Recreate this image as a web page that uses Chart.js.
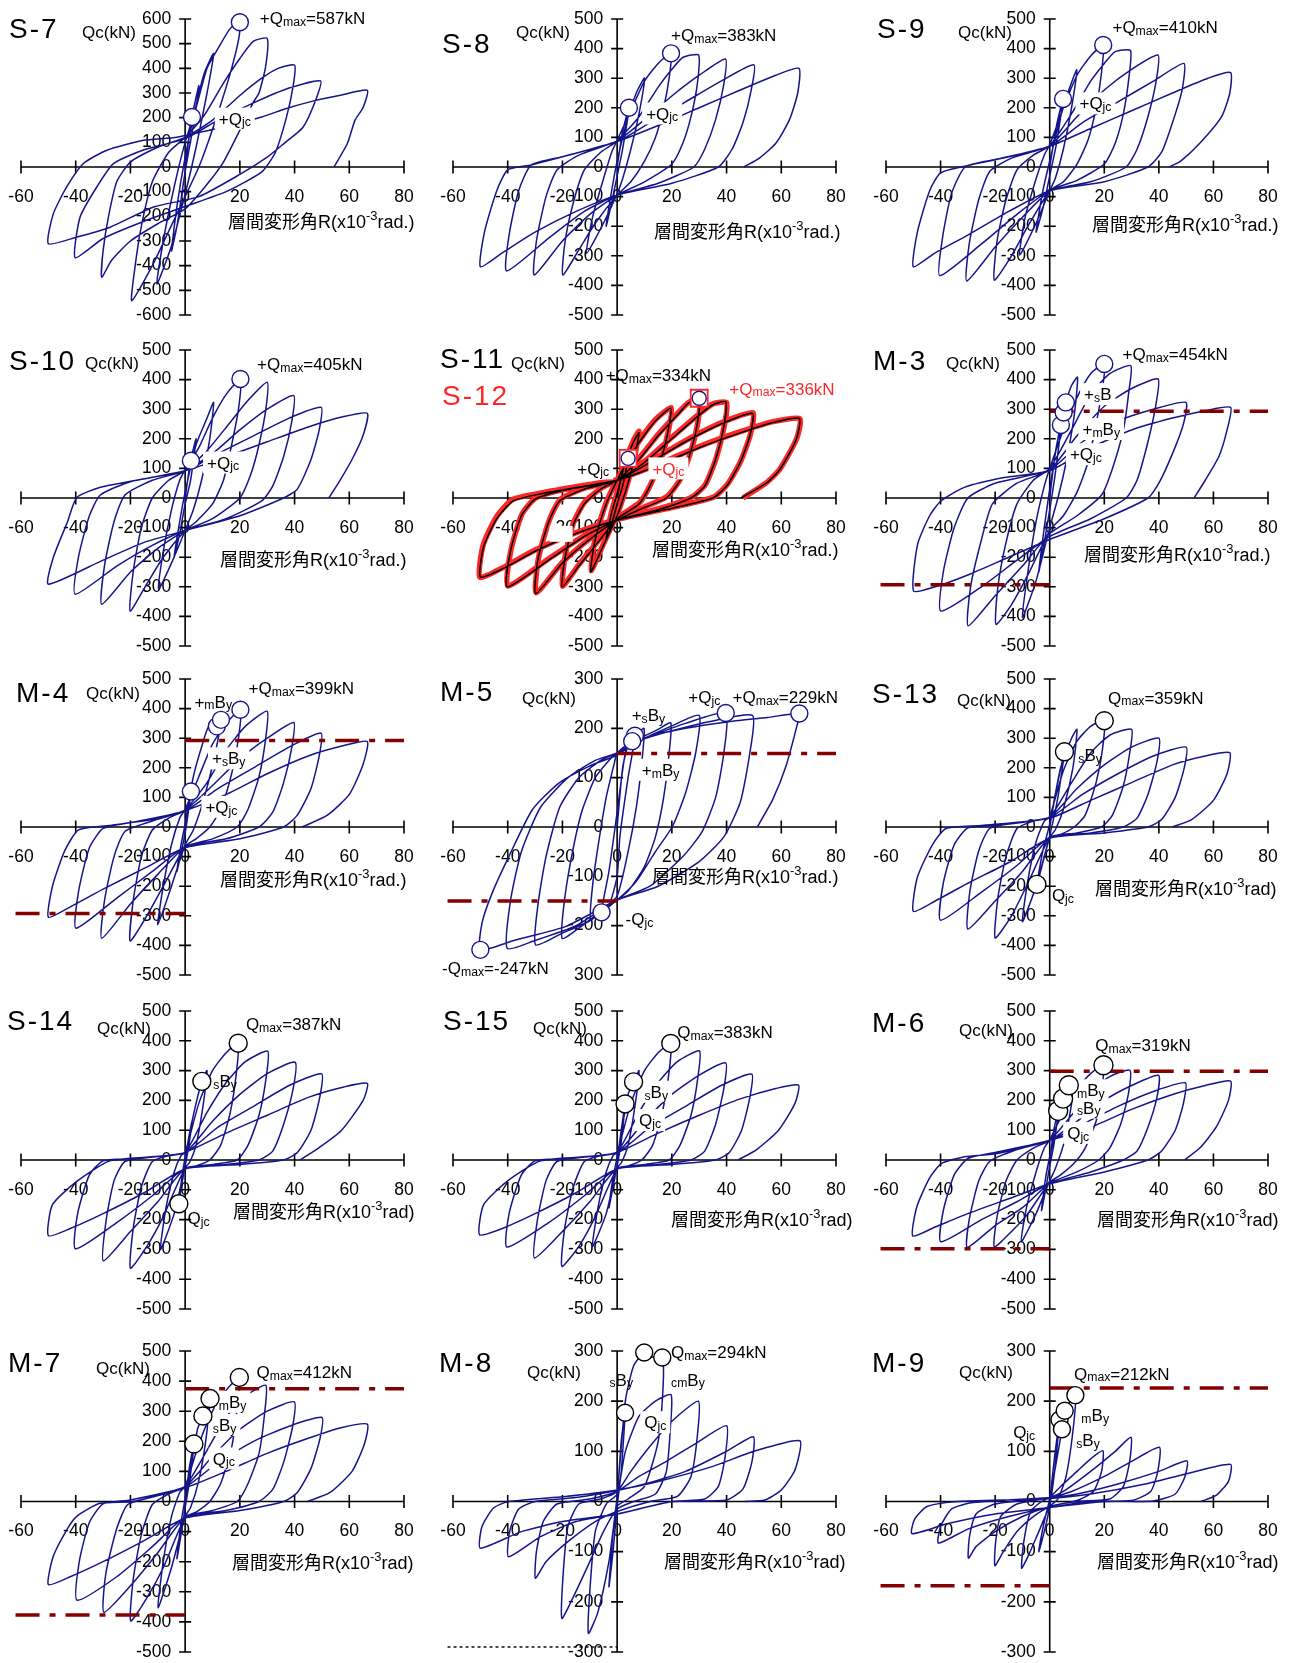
<!DOCTYPE html>
<html>
<head>
<meta charset="utf-8">
<script src="https://cdn.jsdelivr.net/npm/chart.js@4.4.1/dist/chart.umd.min.js"></script>
<style>
  body { margin: 0; background: #fff; }
  #wrap { position: relative; width: 1296px; height: 1663px; }
</style>
</head>
<body>
<div id="wrap"></div>
<script>
// 目盛り
const xTicks = [-60, -40, -20, 0, 20, 40, 60, 80];
const yTicks600 = [-600, -500, -400, -300, -200, -100, 0, 100, 200, 300, 400, 500, 600];
const yTicks500 = [-500, -400, -300, -200, -100, 0, 100, 200, 300, 400, 500];
const yTicks300 = [-300, -200, -100, 0, 100, 200, 300];
const yLabels600 = ['-600', '-500', '-400', '-300', '-200', '-100', '0', '100', '200', '300', '400', '500', '600'];
const yLabels500 = ['-500', '-400', '-300', '-200', '-100', '0', '100', '200', '300', '400', '500'];
const yLabels300 = ['-300', '-200', '-100', '0', '100', '200', '300'];
const yLabelsM5 = ['300', '-200', '-100', '0', '100', '200', '300'];

// 履歴ループ (R x10^-3 rad, Qc kN) を x,y の順に並べたもの
const s7Loop = [
  0,0, 2.5,203, 5,330, 3,170, 0,-20, -3,-240, -5,-340, -3,-160, 0,40,
  4,250, 7,380, 10.4,460, 8,300, 4,80, 0,-110, -5,-320, -10.3,-474, -8,-300, -4,-80, 0,100,
  4,240, 8,400, 12,480, 16.5,562, 20,587, 19.6,520, 17,400, 13.5,271, 9,120, 5,0, 0,-120, -6,-260, -12,-400, -19.5,-542, -18.5,-420, -16,-240, -12,-60, -6,60, 0,120,
  7,210, 14,340, 20,440, 25,510, 30,521, 29.4,406, 27,300, 25,264, 20,149, 14,20, 8,-70, 0,-170, -10,-230, -20,-300, -27,-380, -30.5,-447, -30,-340, -28,-200, -25,-60, -20,20, -10,80, 0,120,
  10,190, 20,290, 28,360, 34,400, 40,413, 39.5,330, 37,200, 33,60, 28,-20, 15,-100, 0,-160, -15,-220, -30,-290, -40.2,-368, -38.4,-203, -32.3,-81, -26.2,14, -15,70, 0,115,
  12,190, 25,260, 38,320, 49.5,349, 47.7,271, 43,160, 36.1,95, 30,40, 20,-30, 5,-120, -11.5,-162, -27.4,-244, -39.6,-284, -50,-311, -48.2,-190, -43.3,-81, -37.2,14, -28.6,68, -15.2,108, -3,121,
  15,165, 28,203, 37,237, 47,268, 56.8,291, 66.6,311, 65,240, 62.1,190, 59.3,95, 54.4,0
];
const s8Loop = [
  0,0, 2,120, 4.3,200, 2,60, 0,-30, -2,-120, -4,-200, -2,-80, 0,20,
  4,170, 7,250, 10,300, 8,180, 5,60, 2,-40, 0,-90, -5,-190, -11.2,-292, -9,-170, -5,-40, -2,50, 0,90,
  5,190, 10,290, 15,350, 19.7,384, 19,300, 17,200, 14,100, 10,20, 5,-50, 0,-95, -8,-190, -14,-280, -19.9,-365, -19,-250, -16,-120, -12,-10, -6,50, 0,88,
  8,170, 15,270, 20,330, 24,370, 29.8,378, 29.3,280, 27,170, 24,80, 20,10, 10,-50, 0,-95, -10,-160, -20,-250, -30.3,-365, -29.5,-250, -26,-100, -22,-10, -14,40, 0,88,
  10,160, 20,240, 30,310, 39.6,365, 39,280, 36,160, 32,60, 28,0, 15,-55, 0,-95, -12,-150, -25,-240, -40.4,-351, -39.5,-230, -36,-80, -31.4,7, -20,35, 0,86,
  12,150, 25,220, 38,290, 50,345, 49,260, 46,150, 42,60, 37,0, 20,-55, 0,-95, -15,-150, -30,-220, -42,-290, -50,-337, -48.5,-220, -44,-80, -40,-10, -31.4,7, -17.2,41, 0,86,
  15,140, 30,200, 45,260, 58,310, 66.5,333, 66,250, 63,160, 58,80, 52,30, 46.3,0
];
const s9Loop = [
  0,0, 2.5,140, 4.9,230, 2.5,80, 0,-30, -2.5,-140, -5,-220, -2.5,-80, 0,20,
  4,170, 7,260, 9.9,328, 8,200, 5,60, 2,-40, 0,-80, -5,-190, -11,-297, -9,-170, -5,-40, -2,40, 0,75,
  5,200, 10,310, 15,375, 19.6,412, 19,320, 17,200, 14,90, 10,10, 5,-50, 0,-80, -8,-200, -14,-300, -20.3,-382, -19.3,-250, -16,-110, -12,-10, -6,40, 0,72,
  8,180, 15,290, 20,350, 24,390, 29.6,393, 29,300, 27,180, 24,80, 20,10, 10,-45, 0,-80, -10,-170, -20,-270, -30.4,-385, -29.5,-260, -26,-110, -22,-15, -14,30, 0,72,
  10,170, 20,260, 30,330, 39.7,378, 39,290, 36,170, 32,60, 28,0, 15,-50, 0,-80, -12,-160, -25,-260, -40.3,-367, -39.3,-240, -36,-90, -31,0, -20,25, 0,70,
  12,150, 25,220, 38,290, 49.2,350, 48.5,260, 45,150, 41,50, 36,0, 20,-50, 0,-80, -15,-150, -30,-230, -42,-290, -50,-337, -48.5,-220, -44,-80, -40,-20, -30,5, -17,30, 0,70,
  15,130, 30,190, 45,250, 58,300, 66.3,319, 66,250, 63,170, 55,80, 48,20, 43.7,0
];
const s10Loop = [
  0,0, 2,126, 4,200, 2,60, 0,-20, -2,-120, -4,-200, -2,-80, 0,20,
  4,180, 8,270, 10.4,323, 9,200, 6,60, 3,-40, 0,-110, -5,-220, -9.7,-308, -8,-180, -5,-40, -2,60, 0,95,
  5,170, 10,270, 15,350, 20.2,402, 19.5,300, 17,180, 14,60, 10,-20, 4,-80, 0,-110, -8,-200, -14,-290, -20.1,-382, -19,-250, -16,-100, -12,0, -6,60, 0,92,
  8,160, 16,250, 23,330, 30,391, 29.5,300, 27,180, 24,80, 20,0, 10,-70, 0,-110, -10,-170, -20,-250, -30.5,-359, -29.5,-230, -26,-80, -22,10, -12,60, 0,92,
  10,150, 20,230, 30,300, 39.7,346, 39,260, 36,140, 32,40, 28,-10, 15,-70, 0,-110, -12,-160, -25,-230, -40.2,-325, -39,-200, -35,-60, -31,10, -20,55, 0,92,
  12,150, 25,210, 38,270, 49.7,306, 49,230, 46,130, 41,30, 36,0, 20,-60, 0,-110, -15,-150, -30,-210, -50,-291, -48.2,-201, -43,-80, -39.6,2, -31,36, -18.9,58, 0,92,
  15,140, 30,190, 45,240, 58,275, 66.6,286, 65,210, 61,130, 56,50, 52.5,0
];
const s11Loop = [
  0,0, 2,90, 4,134, 2,40, 0,-20, -2,-90, -4,-140, -2,-50, 0,15,
  3,120, 6,190, 8,220, 6,120, 3,20, 0,-60, -5,-160, -9.7,-250, -8,-140, -4,-20, 0,60,
  4,130, 9,200, 14,260, 19.6,303, 18.5,220, 16,130, 12,40, 8,-20, 0,-70, -7,-150, -14,-230, -20.1,-300, -19,-200, -16,-90, -12,-20, -6,30, 0,60,
  8,130, 15,210, 22,280, 26,320, 30,337, 29.3,250, 27,160, 23,60, 18,0, 8,-40, 0,-75, -10,-140, -20,-220, -29.8,-323, -29,-210, -25,-80, -21,-10, -12,30, 0,60,
  10,120, 20,200, 30,280, 35,315, 39.7,325, 39,240, 36,130, 32,40, 27,0, 15,-40, 0,-75, -12,-130, -25,-210, -40.2,-300, -39,-180, -35,-60, -30,-5, -20,25, 0,60,
  12,120, 25,190, 38,250, 49.5,286, 48.5,210, 45,120, 40,40, 35,0, 20,-35, 0,-75, -15,-120, -30,-180, -42,-240, -50,-267, -48.8,-165, -44,-70, -38,-10, -27.4,15, -12,40, 0,60,
  15,110, 30,170, 45,220, 57,255, 66.6,269, 65.4,196, 59.3,94, 54.4,49, 45.2,0
];
const s12Loop = [
  0,0, 2,95, 4,138, 2,45, 0,-15, -2,-85, -4,-135, -2,-45, 0,18,
  3,125, 6,195, 8,225, 6,125, 3,25, 0,-55, -5,-155, -9.5,-245, -8,-135, -4,-15, 0,62,
  4,135, 9,205, 14,265, 19.8,305, 18.7,225, 16.2,135, 12.2,45, 8.2,-15, 0,-68, -7,-145, -14,-225, -20,-298, -19,-195, -16,-85, -12,-15, -6,32, 0,62,
  8,135, 15,215, 22,285, 26,322, 30.2,338, 29.5,255, 27.2,165, 23.2,65, 18.2,5, 8,-38, 0,-72, -10,-137, -20,-217, -29.6,-320, -28.8,-205, -24.8,-75, -20.8,-5, -12,33, 0,62,
  10,124, 20,205, 30,284, 35,318, 40,322, 39.2,245, 36.2,135, 32.2,45, 27.2,3, 15,-37, 0,-72, -12,-127, -25,-205, -40,-297, -38.8,-175, -34.8,-55, -29.8,0, -20,28, 0,62,
  12,124, 25,194, 38,254, 49.7,288, 48.7,215, 45.2,125, 40.2,45, 35.2,3, 20,-32, 0,-72, -15,-117, -30,-176, -42,-236, -50.2,-268, -49,-160, -44.2,-65, -38.2,-5, -27.2,18, -12,43, 0,62,
  15,114, 30,174, 45,224, 57,258, 66.8,268, 65.6,200, 59.5,98, 54.6,52, 46,0
];
const m3Loop = [
  0,0, 2,150, 4.1,247, 2,80, 0,-40, -2,-150, -4,-250, -2,-100, 0,30,
  3,200, 5.1,289, 5.9,323, 8,380, 10.2,408, 9,280, 6,120, 3,0, 0,-100, -5,-280, -10,-404, -8,-250, -5,-80, -2,40, 0,100,
  5,230, 10,340, 15,420, 20,453, 19.5,380, 17,250, 14,120, 10,20, 5,-60, 0,-110, -8,-260, -14,-360, -19.7,-427, -19,-300, -16,-150, -12,-20, -6,60, 0,100,
  8,230, 15,350, 22,420, 29.7,447, 29,360, 27,230, 23,100, 19,10, 10,-60, 0,-120, -10,-230, -20,-330, -29.9,-432, -29,-300, -25,-140, -21,-20, -12,50, 0,95,
  10,210, 20,310, 30,370, 39.7,402, 39,320, 36,190, 32,60, 28,0, 15,-70, 0,-130, -12,-210, -25,-300, -39.9,-382, -39,-250, -35,-100, -30,0, -20,50, 0,95,
  12,190, 25,260, 38,300, 49.9,323, 49,250, 45,150, 40,50, 36,0, 20,-70, 0,-140, -15,-200, -30,-260, -42,-300, -49.9,-314, -48.4,-156, -44,-60, -39.9,-10, -31.3,36, -16.7,69, 0,92,
  15,170, 30,230, 45,270, 57,295, 66.3,306, 65,230, 62,140, 57,60, 52.9,0
];
const m4Loop = [
  0,0, 1,70, 2.1,120, 1,40, 0,-20, -1.5,-90, -3,-150, -1.5,-60, 0,10,
  3,170, 6,270, 8.6,340, 11.6,340, 13.1,362, 11,250, 7,100, 3,-10, 0,-60, -5,-200, -10,-330, -8,-200, -5,-60, -2,30, 0,60,
  5,170, 10,280, 15,350, 20.2,396, 19.5,300, 17,180, 13,60, 9,0, 4,-40, 0,-65, -8,-200, -14,-300, -20.1,-385, -19,-250, -16,-100, -12,-10, -6,30, 0,58,
  8,150, 15,260, 22,340, 30,391, 29.3,290, 27,170, 23,60, 19,0, 10,-40, 0,-67, -10,-160, -20,-260, -30.5,-376, -29.5,-250, -26,-100, -22,-15, -12,20, 0,58,
  10,140, 20,230, 30,300, 39.7,353, 39,270, 36,150, 32,50, 27,0, 15,-40, 0,-67, -12,-150, -25,-240, -39.9,-342, -39,-220, -35,-70, -30,-5, -20,15, 0,55,
  12,130, 25,200, 38,270, 49.7,317, 49,240, 46,130, 41,40, 36,0, 20,-40, 0,-70, -15,-140, -30,-210, -42,-270, -50,-305, -48.5,-200, -44,-80, -39,-10, -28,5, -12,25, 0,55,
  15,110, 30,180, 45,240, 58,275, 66.6,289, 65,210, 60,110, 52,40, 42.8,0
];
const m5Loop = [
  0,0, 2,120, 4,165, 6.5,185, 4,100, 1,-20, 0,-100, -3,-160, -5.7,-173, -3,-90, 0,30,
  3,150, 5.5,174, 9.8,200, 9,130, 7,40, 4,-50, 0,-140, -5,-165, -9.7,-188, -9,-120, -7,-40, -4,60, -1,130, 0,150,
  5.5,175, 10,185, 15,198, 19.6,211, 19,150, 17,60, 14,-20, 10,-80, 4,-130, 0,-148, -8,-180, -14,-205, -20.1,-226, -19.5,-160, -17,-70, -13,30, -8,100, -3,135, 0,150,
  6,170, 12,185, 20,205, 30,226, 28.7,150, 25,69, 20.2,1, 14,-50, 7,-110, 0,-148, -10,-190, -20,-215, -29.8,-239, -29,-160, -26,-60, -21,40, -14,100, -6,135, 0,150,
  6,170, 15,190, 25,210, 39.7,231, 39,150, 36,60, 31,-10, 24,-60, 12,-120, 0,-148, -15,-200, -30,-230, -40.2,-246, -39,-150, -35,-50, -28,40, -18,100, -8,135, 0,150,
  8,175, 20,195, 35,215, 49.5,226, 48.5,150, 45,50, 39,-20, 30,-70, 15,-120, 0,-148, -18.9,-202, -37.2,-229, -50,-249, -49.4,-195, -45.7,-134, -39.6,-60, -31,35, -21.3,89, -10.3,123, 0,146,
  10,180, 25,200, 40,213, 55,222, 66.6,230, 66,211, 61.7,123, 56.8,55, 51.3,1
];
const s13Loop = [
  0,0, 2.5,130, 5.4,254, 3,100, 0,-30, -2.5,-120, -4.7,-194, -2.5,-80, 0,10,
  4,200, 8,300, 10,330, 8.5,200, 5,60, 2,-10, 0,-35, -5,-200, -10,-320, -8,-180, -5,-50, -2,20, 0,35,
  5,190, 10,290, 15,340, 20,359, 19.3,260, 17,150, 13,40, 9,0, 4,-25, 0,-35, -8,-190, -14,-300, -20,-375, -19,-240, -16,-100, -12,-5, -6,20, 0,33,
  8,150, 15,250, 22,310, 30,330, 29.3,250, 27,140, 23,40, 19,0, 10,-20, 0,-35, -10,-150, -20,-250, -30,-345, -29.3,-220, -26,-80, -22,-5, -12,15, 0,33,
  10,130, 20,210, 30,270, 40,300, 39.3,220, 36,110, 32,30, 27,0, 15,-20, 0,-35, -12,-130, -25,-220, -40,-315, -39,-190, -35,-60, -30,-3, -20,5, 0,32,
  12,110, 25,180, 38,240, 50,270, 49.3,200, 46,100, 41,25, 36,0, 20,-20, 0,-38, -15,-120, -30,-190, -42,-250, -50,-285, -48.5,-170, -43,-60, -38,-5, -25,5, 0,30,
  15,90, 30,150, 45,210, 57,240, 66,251, 65,180, 60,90, 52,25, 45,0
];
const s14Loop = [
  0,0, 1.2,70, 2.5,130, 1.2,40, 0,-20, -1.2,-80, -2.3,-147, -1.2,-60, 0,10,
  3,150, 6.1,264, 8,300, 6.5,180, 4,50, 1.5,-10, 0,-25, -4,-180, -9,-300, -7,-160, -4,-40, -1.5,15, 0,25,
  5,190, 10,300, 15,360, 19.4,392, 18.7,290, 16.5,160, 13,50, 9,0, 4,-20, 0,-28, -8,-190, -14,-290, -20,-363, -19,-230, -16,-90, -12,-5, -6,15, 0,25,
  8,160, 15,260, 22,330, 30.2,365, 29.5,270, 27,150, 23,50, 19,0, 10,-15, 0,-28, -10,-140, -20,-240, -29.9,-338, -29,-210, -26,-70, -22,-5, -12,10, 0,25,
  10,130, 20,220, 30,290, 40.2,328, 39.5,240, 36,120, 32,30, 27,0, 15,-15, 0,-28, -12,-120, -25,-210, -40.1,-298, -39.3,-180, -35,-50, -30,-3, -20,5, 0,25,
  12,110, 25,180, 38,250, 49.9,289, 49.2,210, 46,100, 41,25, 36,0, 20,-15, 0,-30, -15,-110, -30,-180, -42,-230, -50,-254, -48.5,-150, -39.5,-71, -27.5,-3, -7.4,13, 0,25,
  15,90, 30,150, 45,210, 58,245, 66.6,257, 65,199, 57,98, 48.9,41, 41.9,0
];
const s15Loop = [
  0,0, 1.5,100, 2.9,188, 1.5,60, 0,-20, -1.5,-90, -3,-160, -1.5,-60, 0,10,
  4,220, 6,262, 8,300, 6.5,180, 4,50, 1.5,-10, 0,-25, -4,-180, -9,-290, -7,-160, -4,-40, -1.5,15, 0,25,
  5,190, 10,300, 15,360, 19.6,391, 18.9,290, 16.5,160, 13,50, 9,0, 4,-20, 0,-28, -8,-190, -14,-290, -20.2,-357, -19.2,-230, -16,-90, -12,-5, -6,15, 0,25,
  8,160, 15,260, 22,330, 30.1,366, 29.4,270, 27,150, 23,50, 19,0, 10,-15, 0,-28, -10,-140, -20,-240, -30.2,-329, -29.3,-210, -26,-70, -22,-5, -12,10, 0,25,
  10,130, 20,220, 30,285, 39.7,326, 39,240, 36,120, 32,30, 27,0, 15,-15, 0,-28, -12,-120, -25,-210, -40.3,-292, -39.5,-180, -35,-50, -30,-3, -20,5, 0,25,
  12,110, 25,180, 38,250, 49.2,288, 48.5,210, 45.5,100, 41,25, 36,0, 20,-15, 0,-30, -15,-110, -30,-180, -42,-230, -50.3,-251, -48.8,-150, -40,-70, -28,-3, -8,13, 0,25,
  15,90, 30,150, 45,205, 58,240, 66.3,251, 65,190, 59,100, 51,35, 44.2,0
];
const m6Loop = [
  0,0, 1.5,100, 3.1,165, 1.5,50, 0,-20, -1.5,-100, -3,-170, -1.5,-60, 0,10,
  4.9,206, 7,251, 9,270, 7.5,160, 5,50, 2,-30, 0,-70, -5,-180, -10.4,-274, -8.5,-160, -5,-40, -2,40, 0,68,
  5,160, 10,240, 15,290, 19.7,318, 19,230, 17,130, 13,40, 9,-10, 4,-50, 0,-75, -8,-180, -14,-240, -20.3,-291, -19.3,-190, -16,-70, -12,0, -6,40, 0,66,
  8,150, 15,230, 22,280, 29.4,301, 28.8,220, 26,120, 22,40, 18,0, 10,-40, 0,-78, -10,-160, -20,-220, -30.2,-293, -29.5,-200, -26,-70, -22,-5, -12,35, 0,66,
  10,130, 20,200, 30,250, 39.9,284, 39.3,210, 36,110, 32,30, 27,0, 15,-40, 0,-79, -12,-140, -25,-200, -39.9,-274, -39,-170, -35,-50, -30,5, -20,25, 0,66,
  12,120, 25,180, 38,230, 49.7,259, 49,190, 46,100, 41,30, 36,0, 20,-40, 0,-80, -15,-130, -30,-180, -42,-225, -50.2,-255, -48.7,-157, -44,-60, -39.7,-12, -31.2,11, -19.1,22, 0,66,
  15,110, 30,170, 45,220, 57,250, 66.3,265, 65.5,200, 61,110, 55,40, 49.4,0
];
const m7Loop = [
  0,0, 1.5,110, 3.2,191, 1.5,60, 0,-20, -1.5,-110, -3,-190, -1.5,-70, 0,10,
  4.5,240, 6.5,284, 9.1,342, 7.5,200, 5,70, 2,-20, 0,-50, -5,-220, -9.9,-353, -8,-200, -5,-50, -2,30, 0,50,
  5,190, 10,300, 15,370, 19.8,412, 19,310, 17,180, 13,60, 9,0, 4,-35, 0,-52, -8,-220, -14,-320, -19.9,-397, -19,-260, -16,-110, -12,-10, -6,25, 0,50,
  8,170, 15,280, 22,350, 29.5,386, 29,290, 27,160, 23,60, 19,0, 10,-30, 0,-52, -10,-170, -20,-280, -29.7,-368, -29,-240, -25,-90, -21,-10, -12,15, 0,50,
  10,150, 20,240, 30,300, 39.9,331, 39.3,250, 36,130, 32,40, 27,0, 15,-30, 0,-52, -12,-150, -25,-250, -39.5,-328, -38.7,-200, -35,-70, -30,-8, -20,5, 0,48,
  12,130, 25,200, 38,250, 50,279, 49.3,210, 46,110, 41,30, 36,0, 20,-30, 0,-55, -15,-130, -30,-200, -42,-250, -50,-276, -48.2,-182, -43,-90, -39.7,-50, -31.2,-6, -19,0, 0,45,
  15,100, 30,160, 45,210, 57,245, 66.6,257, 65.5,190, 61,100, 53,30, 44.7,0
];
const m8Loop = [
  0,0, 1.5,120, 2.9,177, 1.5,60, 0,-10, -1.5,-100, -3,-170, -1.5,-60, 0,10,
  3,200, 6,270, 9.9,297, 12,288, 16.5,287, 16.8,230, 15,120, 10,30, 4,5, 0,-10, -3,-120, -7,-220, -10.5,-263, -10,-180, -8,-60, -4,-5, 0,15,
  3,100, 8,170, 14,200, 19.7,213, 19.5,150, 18,60, 14,15, 6,0, 0,-15, -5,-60, -10,-120, -16,-190, -20.2,-233, -19.8,-150, -18,-50, -14,-5, -6,5, 0,20,
  5,60, 12,110, 20,160, 29.7,200, 29.3,130, 27,50, 22,10, 12,0, 0,-20, -8,-40, -18,-80, -26,-120, -29.9,-153, -29.5,-100, -27,-40, -22,-5, -10,5, 0,20,
  8,50, 18,80, 30,120, 40,151, 39.5,90, 37,30, 32,5, 20,0, 0,-25, -15,-40, -28,-70, -39.7,-110, -39.3,-60, -36,-15, -30,0, -15,8, 0,22,
  10,35, 25,60, 40,100, 49.8,129, 49.3,80, 46,25, 40,3, 20,0, 0,-25, -20,-40, -35,-60, -50,-93, -49.4,-50, -45.2,-13, -39.7,0, -19,10, 0,23,
  15,40, 35,70, 50,100, 66.8,121, 65,63, 60,23, 54,3, 46.7,0
];
const m9Loop = [
  0,0, 1.8,90, 3.6,163, 1.8,60, 0,-10, -2,-60, -4,-100, -2,-40, 0,5,
  4.5,144, 5.5,181, 9.4,212, 8.5,140, 6,50, 3,5, 0,-10, -4,-60, -8,-110, -10.3,-133, -9.5,-80, -7,-20, -3,0, 0,8,
  4,30, 10,60, 15,85, 19.5,101, 19,60, 16,20, 10,2, 0,-10, -6,-30, -12,-60, -17,-100, -20.1,-128, -19.8,-80, -18,-30, -12,-5, 0,8,
  5,20, 15,60, 24,100, 29.8,128, 29.3,80, 27,30, 22,5, 10,0, 0,-10, -10,-30, -20,-60, -27,-90, -29.8,-113, -29.4,-70, -27,-25, -20,-5, 0,8,
  8,20, 20,50, 30,80, 40.2,108, 39.6,60, 37,20, 30,2, 15,0, 0,-12, -15,-30, -30,-55, -40.8,-83, -40,-50, -36,-15, -28,-2, 0,8,
  10,15, 25,35, 40,60, 50.3,81, 49.6,50, 46,15, 38,1, 20,0, 0,-12, -20,-25, -38,-45, -50.5,-64, -49.5,-35, -45,-10, -36,-1, 0,6,
  15,15, 35,35, 52,58, 66.3,74, 65.5,40, 61,12, 55.4,0
];

// 特性点 (○印)
const s7Marks = [2.5,203, 20,587];
const s8Marks = [4.3,200, 19.7,384];
const s9Marks = [4.9,230, 19.6,412];
const s10Marks = [2.1,126, 20.2,402];
const s11Marks = [4,134, 30,337];
const m3Marks = [4.1,247, 5.1,289, 5.9,323, 20,453];
const m4Marks = [2.1,120, 11.6,340, 13.1,362, 20.2,396];
const m5Marks = [6.5,185, 5.5,174, 39.7,231, 66.6,230, -5.7,-173, -50,-249];
const s13Marks = [5.4,254, 20,359, -4.7,-194];
const s14Marks = [6.1,264, 19.4,392, -2.3,-147];
const s15Marks = [2.9,188, 6,262, 19.6,391];
const m6Marks = [3.1,165, 4.9,206, 7,251, 19.7,318];
const m7Marks = [3.2,191, 6.5,284, 9.1,342, 19.8,412];
const m8Marks = [2.9,177, 9.9,297, 16.5,287];
const m9Marks = [3.6,163, 4.5,144, 5.5,181, 9.4,212];

// 曲げ終局耐力ライン (kN) : [正側, 負側]
const m3Limits = [293, -293];
const m4Limits = [292, -292];
const m5Limits = [149, -150];
const m6Limits = [298, -298];
const m7Limits = [375, -377];
const m8Limits = [null, -290];
const m9Limits = [226, -168];

const NAVY = '#14148c';
const RED = '#ff2626';
const MAROON = '#850000';
const FONT = "'Liberation Sans', Arial, 'Noto Sans CJK JP', sans-serif";
const LABEL_SIZE = 17;

const colX = [0, 432, 864];
const rowY = [0, 330, 660, 990, 1330];
const padL = [21, 21, 22], padR = [28, 28, 28];
const padT = [19, 20, 19, 21, 21], padB = [15, 14, 15, 11, 11];

const pts = (flat) => {
  const out = [];
  for (let i = 0; i < flat.length; i += 2) out.push({ x: flat[i], y: flat[i + 1] });
  return out;
};

const panels = [
  { name: 'S-7', col: 0, row: 0, yMin: -600, yMax: 600, yTicks: yTicks600, yLabels: yLabels600,
    curves: [{ d: s7Loop, c: NAVY, w: 1.5 }], marks: s7Marks, mc: NAVY, r: 8.5,
    title: [9, 38], qc: [82, 32], xt: [228, 222], rad: 'rad.)',
    labels: [{ t: '+Q_{max}=587kN', x: 27.3, y: 603 }, { t: '+Q_{jc}', x: 12.3, y: 196, box: true }] },
  { name: 'S-8', col: 1, row: 0, yMin: -500, yMax: 500, yTicks: yTicks500, yLabels: yLabels500,
    curves: [{ d: s8Loop, c: NAVY, w: 1.5 }], marks: s8Marks, mc: NAVY, r: 8.5,
    title: [10, 53], qc: [84, 32], xt: [222, 232], rad: 'rad.)',
    labels: [{ t: '+Q_{max}=383kN', x: 19.7, y: 446 }, { t: '+Q_{jc}', x: 10.6, y: 181, box: true }] },
  { name: 'S-9', col: 2, row: 0, yMin: -500, yMax: 500, yTicks: yTicks500, yLabels: yLabels500,
    curves: [{ d: s9Loop, c: NAVY, w: 1.5 }], marks: s9Marks, mc: NAVY, r: 8.5,
    title: [13, 38], qc: [94, 32], xt: [228, 225], rad: 'rad.)',
    labels: [{ t: '+Q_{max}=410kN', x: 23, y: 474 }, { t: '+Q_{jc}', x: 10.9, y: 215, box: true }] },
  { name: 'S-10', col: 0, row: 1, yMin: -500, yMax: 500, yTicks: yTicks500, yLabels: yLabels500,
    curves: [{ d: s10Loop, c: NAVY, w: 1.5 }], marks: s10Marks, mc: NAVY, r: 8.5,
    title: [9, 40], qc: [85, 33], xt: [220, 230], rad: 'rad.)',
    labels: [{ t: '+Q_{max}=405kN', x: 26.3, y: 453 }, { t: '+Q_{jc}', x: 8, y: 120, box: true }] },
  { name: 'S-11', sub: 'S-12', col: 1, row: 1, yMin: -500, yMax: 500, yTicks: yTicks500, yLabels: yLabels500,
    curves: [{ d: s11Loop, c: '#000', w: 1.5 }, { d: s12Loop, c: RED, w: 5.5 }], marks: s11Marks, mc: NAVY, r: 7, squares: true,
    title: [8, 38], subTitle: [10, 75], qc: [79, 33], xt: [220, 220], rad: 'rad.)',
    labels: [{ t: '+Q_{max}=334kN', x: -4.2, y: 415 }, { t: '+Q_{max}=336kN', x: 41, y: 370, color: RED },
      { t: '+Q_{jc}', x: -14.6, y: 100, box: true }, { t: '+Q_{jc}', x: 12.9, y: 100, box: true, color: RED },
      { t: '', x: -23.2, y: -121, box: true, w: 15, h: 16 }] },
  { name: 'M-3', col: 2, row: 1, yMin: -500, yMax: 500, yTicks: yTicks500, yLabels: yLabels500,
    curves: [{ d: m3Loop, c: NAVY, w: 1.5 }], marks: m3Marks, mc: NAVY, r: 8.5, limits: m3Limits,
    title: [9, 40], qc: [82, 33], xt: [220, 225], rad: 'rad.)',
    labels: [{ t: '+Q_{max}=454kN', x: 26.7, y: 486 }, { t: '+_{s}B', x: 12.6, y: 351, box: true },
      { t: '+_{m}B_{y}', x: 12, y: 233, box: true }, { t: '+Q_{jc}', x: 7.4, y: 148, box: true }] },
  { name: 'M-4', col: 0, row: 2, yMin: -500, yMax: 500, yTicks: yTicks500, yLabels: yLabels500,
    curves: [{ d: m4Loop, c: NAVY, w: 1.5 }], marks: m4Marks, mc: NAVY, r: 8.5, limits: m4Limits,
    title: [16, 42], qc: [86, 33], xt: [220, 220], rad: 'rad.)',
    labels: [{ t: '+Q_{max}=399kN', x: 23.2, y: 469 }, { t: '+_{m}B_{y}', x: 3.4, y: 424 },
      { t: '+_{s}B_{y}', x: 9.8, y: 232, box: true }, { t: '+Q_{jc}', x: 7.4, y: 68, box: true }] },
  { name: 'M-5', col: 1, row: 2, yMin: -300, yMax: 300, yTicks: yTicks300, yLabels: yLabelsM5,
    curves: [{ d: m5Loop, c: NAVY, w: 1.5 }], marks: m5Marks, mc: NAVY, r: 8.5, limits: m5Limits,
    title: [8, 41], qc: [90, 38], xt: [220, 217], rad: 'rad.)',
    labels: [{ t: '+_{s}B_{y}', x: 5.3, y: 227 }, { t: '+Q_{jc}', x: 26, y: 264 }, { t: '+Q_{max}=229kN', x: 42.2, y: 264 },
      { t: '+_{m}B_{y}', x: 9, y: 116, box: true }, { t: '-Q_{jc}', x: 3.1, y: -186 }, { t: '-Q_{max}=-247kN', x: -64, y: -286 }] },
  { name: 'S-13', col: 2, row: 2, yMin: -500, yMax: 500, yTicks: yTicks500, yLabels: yLabels500,
    curves: [{ d: s13Loop, c: NAVY, w: 1.5 }], marks: s13Marks, mc: '#000', r: 9,
    title: [8, 43], qc: [93, 40], xt: [231, 229], rad: 'rad)',
    labels: [{ t: 'Q_{max}=359kN', x: 21.4, y: 437 }, { t: '_{s}B_{y}', x: 10.5, y: 244 }, { t: 'Q_{jc}', x: 0.8, y: -229 }] },
  { name: 'S-14', col: 0, row: 3, yMin: -500, yMax: 500, yTicks: yTicks500, yLabels: yLabels500,
    curves: [{ d: s14Loop, c: NAVY, w: 1.5 }], marks: s14Marks, mc: '#000', r: 9,
    title: [7, 40], qc: [97, 38], xt: [233, 222], rad: 'rad)',
    labels: [{ t: 'Q_{max}=387kN', x: 22.2, y: 457 }, { t: '_{s}B_{y}', x: 10.3, y: 266 }, { t: 'Q_{jc}', x: 0.9, y: -194 }] },
  { name: 'S-15', col: 1, row: 3, yMin: -500, yMax: 500, yTicks: yTicks500, yLabels: yLabels500,
    curves: [{ d: s15Loop, c: NAVY, w: 1.5 }], marks: s15Marks, mc: '#000', r: 9,
    title: [11, 40], qc: [101, 38], xt: [239, 230], rad: 'rad)',
    labels: [{ t: 'Q_{max}=383kN', x: 22, y: 430 }, { t: '_{s}B_{y}', x: 10, y: 229, box: true }, { t: 'Q_{jc}', x: 8, y: 134, box: true }] },
  { name: 'M-6', col: 2, row: 3, yMin: -500, yMax: 500, yTicks: yTicks500, yLabels: yLabels500,
    curves: [{ d: m6Loop, c: NAVY, w: 1.5 }], marks: m6Marks, mc: '#000', r: 9.5, limits: m6Limits,
    title: [8, 42], qc: [95, 40], xt: [233, 230], rad: 'rad)',
    labels: [{ t: 'Q_{max}=319kN', x: 16.7, y: 385 }, { t: '_{m}B_{y}', x: 10, y: 234, box: true },
      { t: '_{s}B_{y}', x: 10, y: 176, box: true }, { t: 'Q_{jc}', x: 6.4, y: 91, box: true }] },
  { name: 'M-7', col: 0, row: 4, yMin: -500, yMax: 500, yTicks: yTicks500, yLabels: yLabels500,
    curves: [{ d: m7Loop, c: NAVY, w: 1.5 }], marks: m7Marks, mc: '#000', r: 9, limits: m7Limits,
    title: [8, 42], qc: [96, 38], xt: [232, 233], rad: 'rad)',
    labels: [{ t: 'Q_{max}=412kN', x: 26.1, y: 430 }, { t: '_{m}B_{y}', x: 12.3, y: 331, box: true },
      { t: '_{s}B_{y}', x: 10.1, y: 254, box: true }, { t: 'Q_{jc}', x: 10.1, y: 143, box: true }] },
  { name: 'M-8', col: 1, row: 4, yMin: -300, yMax: 300, yTicks: yTicks300, yLabels: yLabels300,
    curves: [{ d: m8Loop, c: NAVY, w: 1.5 }], marks: m8Marks, mc: '#000', r: 8.5, limits: m8Limits, dotted: true,
    title: [7, 42], qc: [95, 42], xt: [232, 232], rad: 'rad)',
    labels: [{ t: 'Q_{max}=294kN', x: 19.7, y: 298 }, { t: '_{s}B_{y}', x: -2.8, y: 243 },
      { t: '_{cm}B_{y}', x: 19.7, y: 243 }, { t: 'Q_{jc}', x: 9.9, y: 158, box: true }] },
  { name: 'M-9', col: 2, row: 4, yMin: -300, yMax: 300, yTicks: yTicks300, yLabels: yLabels300,
    curves: [{ d: m9Loop, c: NAVY, w: 1.5 }], marks: m9Marks, mc: '#000', r: 8.5, limits: m9Limits,
    title: [8, 42], qc: [95, 42], xt: [233, 232], rad: 'rad)',
    labels: [{ t: 'Q_{max}=212kN', x: 8.9, y: 255 }, { t: '_{m}B_{y}', x: 11.6, y: 172 },
      { t: 'Q_{jc}', x: -13.4, y: 138 }, { t: '_{s}B_{y}', x: 9.7, y: 122 }] }
];

// 添字付きテキスト: _{..} は下付き, ^{..} は上付き
const richParts = (str) => {
  const parts = [];
  const re = /([_^])\{([^}]*)\}|([^_^]+)/g;
  let m;
  while ((m = re.exec(str))) {
    if (m[3]) parts.push({ t: m[3], k: 'n' });
    else parts.push({ t: m[2], k: m[1] });
  }
  return parts;
};

const drawRich = (ctx, str, x, yMid, size, color, measureOnly) => {
  let cx = x;
  const base = yMid + size * 0.36;
  ctx.textAlign = 'left';
  ctx.textBaseline = 'alphabetic';
  for (const p of richParts(str)) {
    const s = p.k === 'n' ? size : size * 0.72;
    ctx.font = s + 'px ' + FONT;
    const dy = p.k === '_' ? size * 0.1 : (p.k === '^' ? -size * 0.45 : 0);
    if (!measureOnly) {
      ctx.fillStyle = color;
      ctx.fillText(p.t, cx, base + dy);
    }
    cx += ctx.measureText(p.t).width;
  }
  return cx - x;
};

const panelDraw = {
  id: 'panelDraw',
  beforeDatasetsDraw(chart, args, opts) {
    const p = opts.p;
    const { ctx } = chart;
    const xs = chart.scales.x, ys = chart.scales.y;
    const x0 = xs.getPixelForValue(0), y0 = ys.getPixelForValue(0);
    ctx.save();
    ctx.strokeStyle = '#000';
    ctx.lineWidth = 1.6;
    ctx.beginPath();
    ctx.moveTo(xs.getPixelForValue(xTicks[0]), y0);
    ctx.lineTo(xs.getPixelForValue(xTicks[xTicks.length - 1]), y0);
    ctx.moveTo(x0, ys.getPixelForValue(p.yTicks[0]));
    ctx.lineTo(x0, ys.getPixelForValue(p.yTicks[p.yTicks.length - 1]));
    xTicks.forEach(v => {
      const px = xs.getPixelForValue(v);
      ctx.moveTo(px, y0 - 6.5);
      ctx.lineTo(px, y0 + 6.5);
    });
    p.yTicks.forEach(v => {
      const py = ys.getPixelForValue(v);
      ctx.moveTo(x0 - 6, py);
      ctx.lineTo(x0 + 6, py);
    });
    ctx.stroke();
    ctx.fillStyle = '#000';
    ctx.font = '17.5px ' + FONT;
    ctx.textAlign = 'center';
    ctx.textBaseline = 'middle';
    xTicks.forEach(v => ctx.fillText(String(v), xs.getPixelForValue(v), y0 + 30));
    ctx.textAlign = 'right';
    p.yTicks.forEach((v, i) => ctx.fillText(p.yLabels[i], x0 - 14, ys.getPixelForValue(v)));
    ctx.restore();
  },
  afterDatasetDraw(chart, args, opts) {
    if (!chart.data.datasets[args.index].boxesAfter) return;
    const p = opts.p;
    const { ctx } = chart;
    const xs = chart.scales.x, ys = chart.scales.y;
    ctx.save();
    p.labels.filter(l => l.box).forEach(l => {
      const px = xs.getPixelForValue(l.x), py = ys.getPixelForValue(l.y);
      const w = l.w || drawRich(ctx, l.t, px, py, LABEL_SIZE, '#000', true);
      const h = l.h || 22;
      ctx.fillStyle = '#fff';
      ctx.fillRect(px - 4, py - h / 2, w + 8, h);
    });
    ctx.restore();
  },
  afterDatasetsDraw(chart, args, opts) {
    const p = opts.p;
    const { ctx } = chart;
    const xs = chart.scales.x, ys = chart.scales.y;
    ctx.save();
    p.labels.forEach(l => {
      if (!l.t) return;
      drawRich(ctx, l.t, xs.getPixelForValue(l.x), ys.getPixelForValue(l.y), LABEL_SIZE, l.color || '#000');
    });
    // 試験体名
    ctx.font = '28px ' + FONT;
    ctx.textAlign = 'left';
    ctx.textBaseline = 'alphabetic';
    ctx.letterSpacing = '2px';
    ctx.fillStyle = '#000';
    ctx.fillText(p.name, p.title[0], p.title[1]);
    if (p.sub) {
      ctx.fillStyle = RED;
      ctx.fillText(p.sub, p.subTitle[0], p.subTitle[1]);
    }
    ctx.letterSpacing = '0px';
    // 軸ラベル
    drawRich(ctx, 'Qc(kN)', p.qc[0], p.qc[1], 17, '#000');
    drawRich(ctx, '層間変形角R(x10^{-3}' + p.rad, p.xt[0], p.xt[1], 18, '#000');
    ctx.restore();
  }
};

const wrap = document.getElementById('wrap');

panels.forEach(p => {
  const W = 432, H = p.row === 4 ? 333 : 330;
  const cv = document.createElement('canvas');
  cv.width = W;
  cv.height = H;
  cv.style.cssText = `position:absolute;left:${colX[p.col]}px;top:${rowY[p.row]}px;width:${W}px;height:${H}px;`;
  wrap.appendChild(cv);

  const datasets = [];
  datasets.push({
    data: pts(p.marks), showLine: false, pointRadius: p.r, pointHoverRadius: p.r,
    pointBackgroundColor: '#fff', pointBorderColor: p.mc, pointBorderWidth: 1.4, order: 1, clip: false
  });
  if (p.squares) {
    datasets.push({
      data: pts(p.marks), showLine: false, pointStyle: 'rect', pointRadius: 12, pointHoverRadius: 12,
      pointBackgroundColor: '#fff', pointBorderColor: RED, pointBorderWidth: 1.8, order: 2, clip: false
    });
  }
  const lower = [];
  if (p.limits) {
    const style = p.dotted
      ? { borderColor: '#000', borderWidth: 1.4, borderDash: [3, 3] }
      : { borderColor: MAROON, borderWidth: 3.5, borderDash: [24, 10, 6, 10] };
    if (p.limits[0] !== null) {
      lower.push(Object.assign({ data: [{ x: 0, y: p.limits[0] }, { x: 80, y: p.limits[0] }], order: 5, tension: 0 }, style));
    }
    lower.push(Object.assign({ data: [{ x: -62, y: p.limits[1] }, { x: 0, y: p.limits[1] }], order: 6, tension: 0 }, style));
  }
  p.curves.forEach((c, i) => {
    lower.push({ data: pts(c.d), borderColor: c.c, borderWidth: c.w, order: 10 + i, tension: 0.2, borderJoinStyle: 'round' });
  });
  lower.forEach(d => {
    d.showLine = true;
    d.pointRadius = 0;
    d.clip = false;
    d.fill = false;
  });
  lower.reduce((a, b) => (a.order < b.order ? a : b)).boxesAfter = true;
  datasets.push(...lower);

  new Chart(cv, {
    type: 'scatter',
    data: { datasets },
    options: {
      responsive: false,
      animation: false,
      events: [],
      layout: { padding: { left: padL[p.col], right: padR[p.col], top: padT[p.row], bottom: padB[p.row] } },
      scales: {
        x: { type: 'linear', min: -60, max: 80, display: false },
        y: { type: 'linear', min: p.yMin, max: p.yMax, display: false }
      },
      plugins: {
        legend: { display: false },
        tooltip: { enabled: false },
        panelDraw: { p }
      }
    },
    plugins: [panelDraw]
  });
});
</script>
</body>
</html>
